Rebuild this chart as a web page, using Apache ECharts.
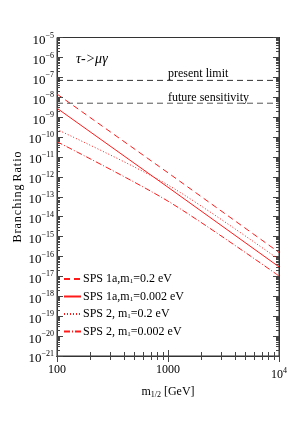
<!DOCTYPE html>
<html><head><meta charset="utf-8">
<script src="https://cdn.jsdelivr.net/npm/echarts@6/dist/echarts.min.js"></script>
<style>html,body{margin:0;padding:0;background:#fff}#c{width:305px;height:436px}</style>
</head><body><div id="c"></div>
<script>
// m_{1/2} [GeV] sample points
const mA = [100, 1000, 10000];
const mB = [100, 1000, 10000];
const mC = [100, 1000, 10000];
// Branching ratios
const sps1a_02 = [1.45e-8, 1.6e-12, 1.6e-16];
const sps1a_0002 = [2.8e-9, 3.0e-13, 3.0e-17];
const sps2_02 = [2.4e-10, 3.9e-13, 7.0e-17];
const sps2_0002 = [5.8e-11, 6.0e-14, 1.05e-17];
const presentLimit = 7e-8;
const futureSens = 5e-9;
const seriesNames = ['SPS 1a,m1=0.2 eV', 'SPS 1a,m1=0.002 eV', 'SPS 2, m1=0.2 eV', 'SPS 2, m1=0.002 eV'];
const legendRich = {
  'SPS 1a,m1=0.2 eV': '{n|SPS 1a,m}{s|1}{n|=0.2 eV}',
  'SPS 1a,m1=0.002 eV': '{n|SPS 1a,m}{s|1}{n|=0.002 eV}',
  'SPS 2, m1=0.2 eV': '{n|SPS 2, m}{s|1}{n|=0.2 eV}',
  'SPS 2, m1=0.002 eV': '{n|SPS 2, m}{s|1}{n|=0.002 eV}'
};
const yMin = 1e-21, yMax = 1e-5, xMin = 100, xMax = 10000;
const yMajorTicks = [];
for (let n = -21; n <= -5; n++) yMajorTicks.push(Number('1e' + n));
const xMajorTicks = [100, 1000, 10000];

const zip = (xs, ys) => xs.map((x, i) => [x, ys[i]]);
const yMinorTicks = [];
for (let n = -21; n < -5; n++) for (let d = 2; d <= 9; d++) yMinorTicks.push(Number(d + 'e' + n));
const xMinorTicks = [];
for (let n = 2; n < 4; n++) for (let d = 2; d <= 9; d++) xMinorTicks.push(d * Math.pow(10, n));

const FONT = 'Liberation Serif';
const RED = '#ff1a1a';
const chart = echarts.init(document.getElementById('c'), null, {renderer: 'canvas'});

function expLabel(v) {
  const e = Math.round(Math.log10(v));
  return '{b|10}{e|' + (e < 0 ? '\u2212' + (-e) : e) + '}';
}
const supRich = {
  b: {fontFamily: FONT, fontSize: 13, color: '#000', padding: [6, 0, 0, 0]},
  e: {fontFamily: FONT, fontSize: 8, color: '#000', padding: [0, 0, 4, 0]}
};

const lineSeries = (name, xs, ys, type, smooth) => ({
  name, type: 'line', data: zip(xs, ys), symbol: 'none', showSymbol: false, smooth: smooth || false,
  lineStyle: {color: RED, width: 1, type}, itemStyle: {color: RED}, z: 3, silent: true
});

const tickAxis = (kind, position, ticks, len, extra) => Object.assign({
  type: 'log', logBase: 10, min: kind === 'x' ? xMin : yMin, max: kind === 'x' ? xMax : yMax,
  position, gridIndex: 0,
  axisLine: {show: true, lineStyle: {color: '#333'}},
  axisTick: {show: true, inside: true, length: len, customValues: ticks, lineStyle: {color: '#444'}},
  axisLabel: {show: false}, splitLine: {show: false}
}, extra || {});

chart.setOption({
  animation: false,
  backgroundColor: '#fff',
  grid: {left: 57, right: 26, top: 37.5, bottom: 80, show: true, borderColor: '#333', borderWidth: 1,
    outerBoundsMode: 'none', containLabel: false},
  title: {text: '\u03c4->\u03bc\u03b3', left: 71, top: 47,
    textStyle: {fontFamily: FONT, fontStyle: 'italic', fontWeight: 'normal', fontSize: 14, color: '#000'}},
  legend: {
    orient: 'vertical', left: 58, top: 268, itemWidth: 17, itemHeight: 12, itemGap: 5.5,
    data: seriesNames,
    formatter: n => legendRich[n],
    itemStyle: {opacity: 0},
    lineStyle: {opacity: 1},
    textStyle: {fontFamily: FONT, fontSize: 12, color: '#000', padding: [0, 0, 0, -3],
      rich: {n: {fontFamily: FONT, fontSize: 12, color: '#000'}, s: {fontFamily: FONT, fontSize: 7, color: '#000', padding: [5, 0, 0, 0]}}},
    selectedMode: false
  },
  xAxis: [
    tickAxis('x', 'bottom', xMajorTicks, 6, {
      axisLabel: {show: true, margin: 8, fontFamily: FONT, fontSize: 12, color: '#000', customValues: xMajorTicks,
        formatter: v => (v >= 10000 ? expLabel(v) : String(Math.round(v))),
        rich: {b: {fontFamily: FONT, fontSize: 12, color: '#000', padding: [5, 0, 0, 0]}, e: {fontFamily: FONT, fontSize: 8, color: '#000', padding: [0, 0, 3, 0]}}},
      name: '{n|m}{s|1/2}{n| [GeV]}', nameLocation: 'middle', nameGap: 28,
      nameTextStyle: {rich: {n: {fontFamily: FONT, fontSize: 12, color: '#000'}, s: {fontFamily: FONT, fontSize: 8, color: '#000', padding: [6, 0, 0, 0]}}}
    }),
    tickAxis('x', 'top', xMajorTicks, 6),
    tickAxis('x', 'bottom', xMinorTicks, 4),
    tickAxis('x', 'top', xMinorTicks, 4)
  ],
  yAxis: [
    tickAxis('y', 'left', yMajorTicks, 6, {
      axisLabel: {show: true, margin: 3, customValues: yMajorTicks, formatter: expLabel, rich: supRich}
    }),
    tickAxis('y', 'right', yMajorTicks, 6),
    tickAxis('y', 'left', yMinorTicks, 3),
    tickAxis('y', 'right', yMinorTicks, 3)
  ],
  graphic: [
    {type: 'text', left: 168, top: 68, style: {text: 'present limit', fontFamily: FONT, fontSize: 12, fill: '#000'}},
    {type: 'text', left: 168, top: 92, style: {text: 'future sensitivity', fontFamily: FONT, fontSize: 12, fill: '#000'}},
    {type: 'text', x: 18, y: 197, rotation: Math.PI / 2, style: {text: 'B r a n c h i n g   R a t i o'.replace(/ /g, '\u200a'), fontFamily: FONT, fontSize: 12, fill: '#000', align: 'center', verticalAlign: 'middle'}}
  ],
  series: [
    lineSeries(seriesNames[0], mA, sps1a_02, [6, 4]),
    lineSeries(seriesNames[1], mA, sps1a_0002, 'solid'),
    lineSeries(seriesNames[2], mB, sps2_02, [1, 2], 0.3),
    lineSeries(seriesNames[3], mC, sps2_0002, [6, 2, 1, 2], 0.3),
    {type: 'line', name: 'present', data: [[xMin, presentLimit], [xMax, presentLimit]], symbol: 'none',
      lineStyle: {color: '#333', width: 1, type: [6, 4]}, silent: true},
    {type: 'line', name: 'future', data: [[xMin, futureSens], [xMax, futureSens]], symbol: 'none',
      lineStyle: {color: '#555', width: 1, type: [6, 4]}, silent: true}
  ]
});
</script></body></html>
